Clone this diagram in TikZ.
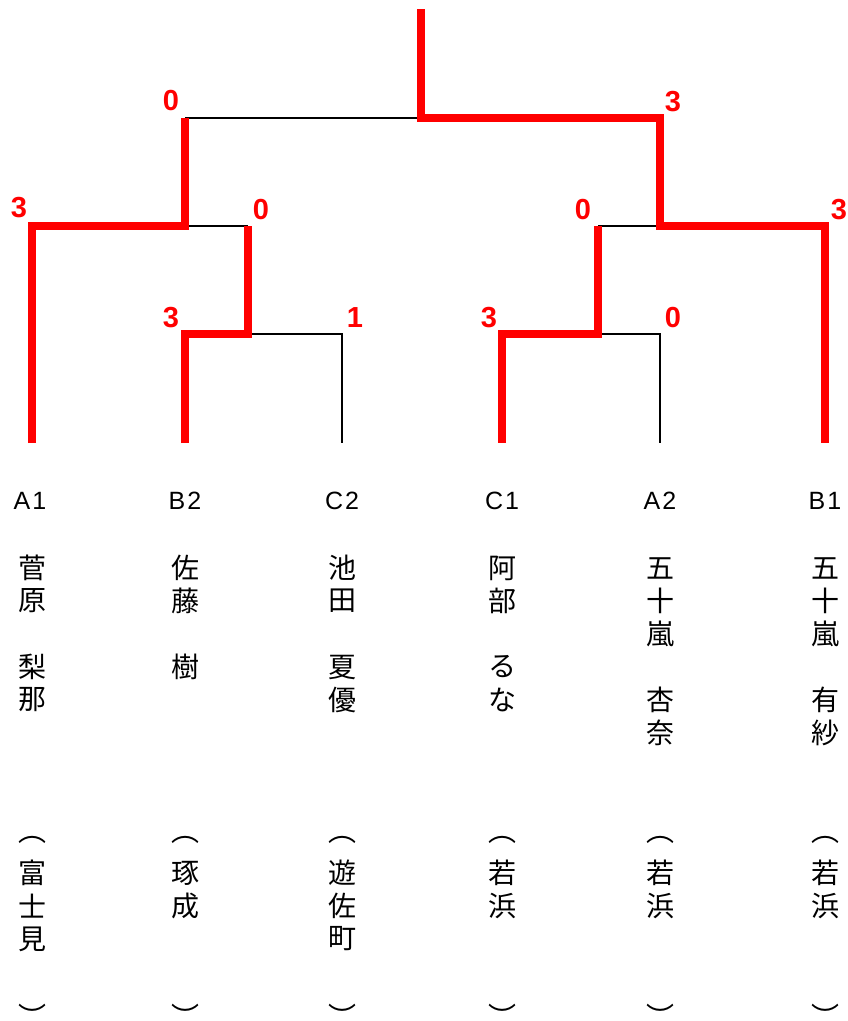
\documentclass[tikz,border=0pt]{standalone}
\usepackage{fontspec}
\newfontfamily\jpfont{Noto Sans CJK JP}
\newfontfamily\labfont[LetterSpace=8]{Liberation Sans}
\newfontfamily\scorefont{Liberation Sans}
\begin{document}
\begin{tikzpicture}[x=1pt,y=-1pt,
  winline/.style={draw=red,line width=7.5pt,line join=miter,line cap=butt},
  loseline/.style={draw=black,line width=2.6pt,line join=miter,line cap=butt},
  score/.style={text=red,inner sep=0pt,font=\scorefont\bfseries\fontsize{29}{31}\selectfont},
  seed/.style={inner sep=0pt,font=\labfont\fontsize{25}{27}\selectfont},
  kj/.style={inner sep=0pt,anchor=center,font=\jpfont\fontsize{28}{33}\selectfont}]
\fill[white] (0,0) rectangle (847,1021);
\useasboundingbox (0,0) rectangle (847,1021);
% bracket junction points
\coordinate (top) at (421,9);
\coordinate (fin) at (421,118);
\coordinate (finL) at (185,118);
\coordinate (finR) at (660,118);
\coordinate (sfL) at (185,226);
\coordinate (sfLa) at (32,226);
\coordinate (sfLb) at (248,226);
\coordinate (sfR) at (660,226);
\coordinate (sfRa) at (598,226);
\coordinate (sfRb) at (825,226);
\coordinate (qL) at (248,334);
\coordinate (qLa) at (185,334);
\coordinate (qLb) at (342,334);
\coordinate (qR) at (598,334);
\coordinate (qRa) at (502,334);
\coordinate (qRb) at (660,334);
\coordinate (lA1) at (32,443);
\coordinate (lB2) at (185,443);
\coordinate (lC2) at (342,443);
\coordinate (lC1) at (502,443);
\coordinate (lA2) at (660,443);
\coordinate (lB1) at (825,443);
% losing lines
\draw[loseline] (finL) -- (fin);
\draw[loseline] (sfL) -- (sfLb);
\draw[loseline] (qL) -- (qLb) -- (lC2);
\draw[loseline] (sfRa) -- (sfR);
\draw[loseline] (qR) -- (qRb) -- (lA2);
% winning lines
\draw[winline] (lA1) -- (sfLa) -- (sfL) -- (finL);
\draw[winline] (lB2) -- (qLa) -- (qL) -- (sfLb);
\draw[winline] (top) -- (fin) -- (finR) -- (sfR) -- (sfRb) -- (lB1);
\draw[winline] (sfRa) -- (qR) -- (qRa) -- (lC1);
% scores
\node[score] (s1) at (171,101) {0};
\node[score] (s2) at (673,102) {3};
\node[score] (s3) at (19,208) {3};
\node[score] (s4) at (261,210) {0};
\node[score] (s5) at (583,210) {0};
\node[score] (s6) at (839,210) {3};
\node[score] (s7) at (171,318) {3};
\node[score] (s8) at (355,318) {1};
\node[score] (s9) at (489,318) {3};
\node[score] (s10) at (673,318) {0};
% seeds
\node[seed] (tA1) at (30,501) {A1};
\node[seed] (tB2) at (185,501) {B2};
\node[seed] (tC2) at (342,501) {C2};
\node[seed] (tC1) at (502,501) {C1};
\node[seed] (tA2) at (660,501) {A2};
\node[seed] (tB1) at (825,501) {B1};
% names and regions
\foreach \id/\x/\names/\reg in {
  a/32/{菅/0,原/1,梨/3,那/4}/{富/1,士/2,見/3},
  b/185/{佐/0,藤/1,樹/3}/{琢/1,成/2},
  c/342/{池/0,田/1,夏/3,優/4}/{遊/1,佐/2,町/3},
  d/502/{阿/0,部/1,る/3,な/4}/{若/1,浜/2},
  e/660/{五/0,十/1,嵐/2,杏/4,奈/5}/{若/1,浜/2},
  f/825/{五/0,十/1,嵐/2,有/4,紗/5}/{若/1,浜/2}} {
  \foreach \ch/\r in \names {
    \node[kj] (\id n\r) at (\x,{568+33*\r}) {\ch};
  }
  \node[kj] (\id po) at (\x,840) {︵};
  \foreach \ch/\r in \reg {
    \node[kj] (\id r\r) at (\x,{840+33*\r}) {\ch};
  }
  \node[kj] (\id pc) at (\x,1016) {︶};
}
\end{tikzpicture}
\end{document}
